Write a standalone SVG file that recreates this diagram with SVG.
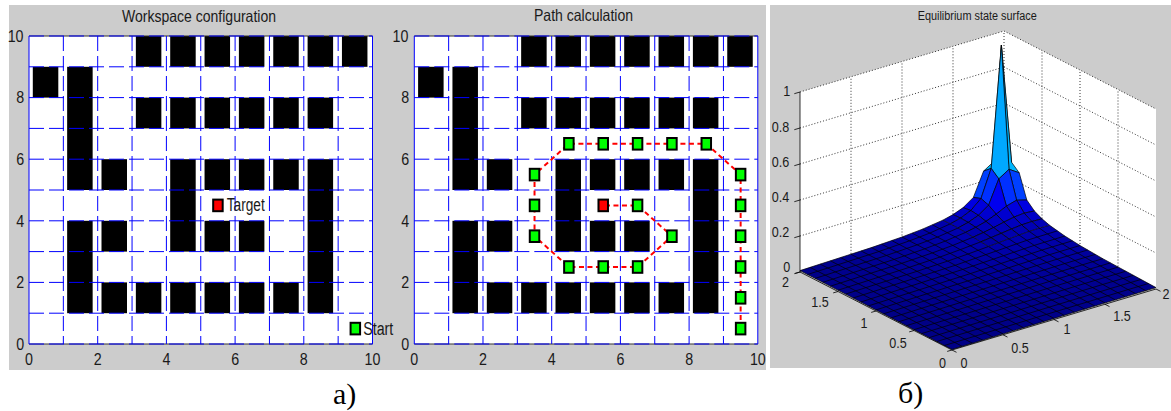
<svg xmlns="http://www.w3.org/2000/svg" width="1171" height="411" viewBox="0 0 1171 411">
<style>
.bg{fill:#CCCCCC}
.plot{fill:#FFFFFF}
.obs rect{fill:#000000}
.grid{fill:none;stroke:#0000FF;stroke-width:1;stroke-dasharray:15 5}
.box{fill:none;stroke:#0000FF;stroke-width:1}
.kline{fill:none;stroke:#333333;stroke-width:1}
.mk{stroke:#000000;stroke-width:2}
.g{fill:#00FF00}
.r{fill:#FF0000}
.route{fill:none;stroke:#FF0000;stroke-width:2;stroke-dasharray:5 3.5}
.t{font-family:"Liberation Sans",Arial,sans-serif;fill:#1a1a1a}
.tk{font-size:17px}
.tk3{font-size:15px}
.cx{transform-box:fill-box;transform-origin:center;transform:scaleX(0.84)}
.cap{font-family:"Liberation Serif","Times New Roman",serif;font-size:30px;fill:#000}
.wall{fill:#FFFFFF}
.dot{fill:none;stroke:#000000;stroke-width:0.8;stroke-dasharray:1 2}
.ax{fill:none;stroke:#000000;stroke-width:0.8}
.mesh{fill:none;stroke:#000000;stroke-width:0.7}
.f polygon{stroke:#000000;stroke-width:0.7;stroke-linejoin:round}
</style>
<defs>
<radialGradient id="surfGrad" gradientUnits="userSpaceOnUse" cx="1001" cy="222" r="250" gradientTransform="translate(1001 222) scale(1 0.42) translate(-1001 -222)">
<stop offset="0" stop-color="#0000B8"/>
<stop offset="0.25" stop-color="#0000AA"/>
<stop offset="0.5" stop-color="#00009A"/>
<stop offset="0.75" stop-color="#00008E"/>
<stop offset="1" stop-color="#000086"/>
</radialGradient>
<g id="map">
<rect class="plot" x="0" y="0" width="343.5" height="308"/>
<g class="obs">
<rect x="3.8" y="30.8" width="25.5" height="30.8"/>
<rect x="38.15" y="30.8" width="25.5" height="123.2"/>
<rect x="38.15" y="184.8" width="25.5" height="92.4"/>
<rect x="72.5" y="123.2" width="25.5" height="30.8"/>
<rect x="72.5" y="184.8" width="25.5" height="30.8"/>
<rect x="72.5" y="246.4" width="25.5" height="30.8"/>
<rect x="106.85" y="0" width="25.5" height="30.8"/>
<rect x="106.85" y="61.6" width="25.5" height="30.8"/>
<rect x="106.85" y="246.4" width="25.5" height="30.8"/>
<rect x="141.2" y="0" width="25.5" height="30.8"/>
<rect x="141.2" y="61.6" width="25.5" height="30.8"/>
<rect x="141.2" y="123.2" width="25.5" height="92.4"/>
<rect x="141.2" y="246.4" width="25.5" height="30.8"/>
<rect x="175.55" y="0" width="25.5" height="30.8"/>
<rect x="175.55" y="61.6" width="25.5" height="30.8"/>
<rect x="175.55" y="123.2" width="25.5" height="30.8"/>
<rect x="175.55" y="184.8" width="25.5" height="30.8"/>
<rect x="175.55" y="246.4" width="25.5" height="30.8"/>
<rect x="209.9" y="0" width="25.5" height="30.8"/>
<rect x="209.9" y="61.6" width="25.5" height="30.8"/>
<rect x="209.9" y="123.2" width="25.5" height="30.8"/>
<rect x="209.9" y="184.8" width="25.5" height="30.8"/>
<rect x="209.9" y="246.4" width="25.5" height="30.8"/>
<rect x="244.25" y="0" width="25.5" height="30.8"/>
<rect x="244.25" y="61.6" width="25.5" height="30.8"/>
<rect x="244.25" y="123.2" width="25.5" height="30.8"/>
<rect x="244.25" y="246.4" width="25.5" height="30.8"/>
<rect x="278.6" y="0" width="25.5" height="30.8"/>
<rect x="278.6" y="61.6" width="25.5" height="30.8"/>
<rect x="278.6" y="123.2" width="25.5" height="154"/>
<rect x="312.95" y="0" width="25.5" height="30.8"/>
</g>
<path class="kline" d="M0,0H343.5M0,308H343.5"/>
<path class="grid" d="M34.35,0V308M68.7,0V308M103.05,0V308M137.4,0V308M171.75,0V308M206.1,0V308M240.45,0V308M274.8,0V308M309.15,0V308M0,0H343.5M0,30.8H343.5M0,61.6H343.5M0,92.4H343.5M0,123.2H343.5M0,154H343.5M0,184.8H343.5M0,215.6H343.5M0,246.4H343.5M0,277.2H343.5M0,308H343.5"/>
<path class="box" d="M0,0V308M343.5,0V308"/>
</g>
</defs>

<rect class="bg" x="9" y="5" width="757" height="365"/>

<g id="panel-workspace">
<text class="t" x="122" y="21.5" font-size="16.5" textLength="154" lengthAdjust="spacingAndGlyphs">Workspace configuration</text>
<use href="#map" transform="translate(29,36)"/>
<g transform="translate(29,36)">
<rect class="mk r" x="184.18" y="163.6" width="9.5" height="11.6"/>
<text class="t" x="197.7" y="174.5" font-size="18" textLength="38" lengthAdjust="spacingAndGlyphs">Target</text>
<rect class="mk g" x="321.58" y="286.8" width="9.5" height="11.6"/>
<text class="t" x="334.3" y="299" font-size="18" textLength="30" lengthAdjust="spacingAndGlyphs">Start</text>
</g>
<g class="t tk" text-anchor="end">
<text class="cx" x="25" y="41.8">10</text>
<text class="cx" x="25" y="103.4">8</text>
<text class="cx" x="25" y="165">6</text>
<text class="cx" x="25" y="226.6">4</text>
<text class="cx" x="25" y="288.2">2</text>
<text class="cx" x="25" y="349.8">0</text>
</g>
<g class="t tk" text-anchor="middle">
<text class="cx" x="29" y="365.5">0</text>
<text class="cx" x="97.7" y="365.5">2</text>
<text class="cx" x="166.4" y="365.5">4</text>
<text class="cx" x="235.1" y="365.5">6</text>
<text class="cx" x="303.8" y="365.5">8</text>
<text class="cx" x="372.5" y="365.5">10</text>
</g>
</g>

<g id="panel-path">
<text class="t" x="534" y="21" font-size="16.5" textLength="99" lengthAdjust="spacingAndGlyphs">Path calculation</text>
<use href="#map" transform="translate(414.3,36)"/>
<g transform="translate(414.3,36)">
<path class="route" d="M326.33,292.6L326.33,138.6L291.98,107.8L154.58,107.8L120.23,138.6L120.23,200.2L154.58,231L223.28,231L257.63,200.2L223.28,169.4L188.93,169.4"/>
<g class="mk g">
<rect x="321.58" y="286.8" width="9.5" height="11.6"/>
<rect x="321.58" y="256" width="9.5" height="11.6"/>
<rect x="321.58" y="225.2" width="9.5" height="11.6"/>
<rect x="321.58" y="194.4" width="9.5" height="11.6"/>
<rect x="321.58" y="163.6" width="9.5" height="11.6"/>
<rect x="321.58" y="132.8" width="9.5" height="11.6"/>
<rect x="287.23" y="102" width="9.5" height="11.6"/>
<rect x="252.88" y="102" width="9.5" height="11.6"/>
<rect x="218.53" y="102" width="9.5" height="11.6"/>
<rect x="184.18" y="102" width="9.5" height="11.6"/>
<rect x="149.83" y="102" width="9.5" height="11.6"/>
<rect x="115.48" y="132.8" width="9.5" height="11.6"/>
<rect x="115.48" y="163.6" width="9.5" height="11.6"/>
<rect x="115.48" y="194.4" width="9.5" height="11.6"/>
<rect x="149.83" y="225.2" width="9.5" height="11.6"/>
<rect x="184.18" y="225.2" width="9.5" height="11.6"/>
<rect x="218.53" y="225.2" width="9.5" height="11.6"/>
<rect x="252.88" y="194.4" width="9.5" height="11.6"/>
<rect x="218.53" y="163.6" width="9.5" height="11.6"/>
</g>
<rect class="mk r" x="184.18" y="163.6" width="9.5" height="11.6"/>
</g>
<g class="t tk" text-anchor="end">
<text class="cx" x="410" y="41.8">10</text>
<text class="cx" x="410" y="103.4">8</text>
<text class="cx" x="410" y="165">6</text>
<text class="cx" x="410" y="226.6">4</text>
<text class="cx" x="410" y="288.2">2</text>
<text class="cx" x="410" y="349.8">0</text>
</g>
<g class="t tk" text-anchor="middle">
<text class="cx" x="414.3" y="365.5">0</text>
<text class="cx" x="483" y="365.5">2</text>
<text class="cx" x="551.7" y="365.5">4</text>
<text class="cx" x="620.4" y="365.5">6</text>
<text class="cx" x="689.1" y="365.5">8</text>
<text class="cx" x="757.8" y="365.5">10</text>
</g>
</g>

<g id="panel-surface">
<rect class="bg" x="770" y="5" width="401" height="363"/>
<text class="t" x="917.7" y="19.5" font-size="12.5" textLength="119" lengthAdjust="spacingAndGlyphs">Equilibrium state surface</text>
<polygon class="wall" points="800,272 1004,211 1004,31 800,92"/>
<polygon class="wall" points="1004,211 1156,289 1156,109 1004,31"/>
<path class="dot" d="M851,256.8L851,76.8M902,241.5L902,61.5M953,226.3L953,46.3M1004,211L1004,31M800,272L1004,211M800,236L1004,175M800,200L1004,139M800,164L1004,103M800,128L1004,67M800,92L1004,31M1118,269.5L1118,89.5M1080,250L1080,70M1042,230.5L1042,50.5M1004,211L1156,289M1004,175L1156,253M1004,139L1156,217M1004,103L1156,181M1004,67L1156,145M1004,31L1156,109"/>
<path class="ax" d="M800,272L800,92M800,272L794.3,273.7M800,236L794.3,237.7M800,200L794.3,201.7M800,164L794.3,165.7M800,128L794.3,129.7M800,92L794.3,93.7M952,350L800,272M952,350L947.2,351.4M914,330.5L909.2,331.9M876,311L871.2,312.4M838,291.5L833.2,292.9M800,272L795.2,273.4M952,350L1156,289M952,350L956.5,352.3M1003,334.8L1007.5,337.1M1054,319.5L1058.5,321.8M1105,304.3L1109.5,306.6M1156,289L1160.5,291.3"/>
<g class="t tk3" text-anchor="end">
<text class="cx" x="791" y="96">1</text>
<text class="cx" x="791" y="132">0.8</text>
<text class="cx" x="791" y="167">0.6</text>
<text class="cx" x="791" y="202.3">0.4</text>
<text class="cx" x="791" y="237.3">0.2</text>
<text class="cx" x="791" y="272">0</text>
</g>
<g class="t tk3" text-anchor="middle">
<text class="cx" x="942.5" y="368">0</text>
<text class="cx" x="898" y="348.5">0.5</text>
<text class="cx" x="864" y="328.5">1</text>
<text class="cx" x="820" y="307.5">1.5</text>
<text class="cx" x="785.5" y="287.5">2</text>
<text class="cx" x="964" y="368">0</text>
<text class="cx" x="1020" y="353.5">0.5</text>
<text class="cx" x="1067" y="334.5">1</text>
<text class="cx" x="1122" y="321.5">1.5</text>
<text class="cx" x="1166" y="299.5">2</text>
</g>
<polygon fill="url(#surfGrad)" points="952,349.4 1054,318.4 1094.8,306 1125.4,296.8 1156,287.6 1102.8,258.7 1080,245.5 1064.8,236 1049.6,225.3 1039.4,228.1 1029.2,231.4 1019,235 1008.8,238.8 998.6,242.7 988.4,246.5 980.8,241.8 973.2,237.1 965.6,232.4 958,228 950.4,223.8 942.8,220.2 922.4,229.2 902,237 871.4,247.6 800,270.6 822.8,282.3 845.6,294.1 876,309.9"/>
<path class="mesh" d="M952,349.4L876,309.9L845.6,294.1L822.8,282.3L800,270.6
M962.2,346.3L886.2,306.7L855.8,290.9L833,279.1L810.2,267.4
M972.4,343.2L896.4,303.5L866,287.7L843.2,275.9L820.4,264.2
M982.6,340.1L906.6,300.4L876.2,284.5L853.4,272.6L830.6,260.9
M992.8,337L916.8,297.2L886.4,281.2L863.6,269.4L840.8,257.7
M1003,333.9L927,293.9L896.6,278L873.8,266.1L851,254.3
M1013.2,330.8L937.2,290.7L906.8,274.7L884,262.7L861.2,251
M1023.4,327.7L947.4,287.5L917,271.3L894.2,259.4L871.4,247.6
M1033.6,324.6L957.6,284.2L927.2,268L904.4,255.9L881.6,244.2
M1043.8,321.5L967.8,281L937.4,264.6L914.6,252.4L891.8,240.6
M1054,318.4L978,277.7L947.6,261.1L924.8,248.8L902,237
M1064.2,315.3L988.2,274.4L957.8,257.6L935,245L912.2,233.2
M1074.4,312.2L998.4,271.1L968,254L945.2,241.1L922.4,229.2
M1084.6,309.1L1008.6,267.8L978.2,250.3L955.4,237L932.6,224.9
M1094.8,306L1041.6,277.3L1018.8,264.5L1003.6,255.7L988.4,246.5
M1105,302.9L1051.8,274.1L1029,261.2L1013.8,252.2L998.6,242.7
M1115.2,299.8L1062,271L1039.2,258L1024,248.8L1008.8,238.8
M1125.4,296.8L1072.2,267.9L1049.4,254.7L1034.2,245.4L1019,235
M1135.6,293.7L1082.4,264.8L1059.6,251.6L1044.4,242.1L1029.2,231.4
M1145.8,290.7L1092.6,261.7L1069.8,248.5L1054.6,239L1039.4,228.1
M1156,287.6L1102.8,258.7L1080,245.5L1064.8,236L1049.6,225.3
M952,349.4L1054,318.4L1094.8,306L1125.4,296.8L1156,287.6
M944.4,345.5L1046.4,314.4L1087.2,302L1117.8,292.7L1148.4,283.5
M936.8,341.5L1038.8,310.3L1079.6,297.9L1110.2,288.6L1140.8,279.5
M929.2,337.6L1031.2,306.3L1072,293.8L1102.6,284.5L1133.2,275.4
M921.6,333.6L1023.6,302.3L1064.4,289.7L1095,280.4L1125.6,271.3
M914,329.7L1016,298.2L1056.8,285.6L1087.4,276.3L1118,267.1
M906.4,325.7L1008.4,294.1L1049.2,281.5L1079.8,272.1L1110.4,262.9
M898.8,321.7L1000.8,290L1041.6,277.3L1072.2,267.9L1102.8,258.7
M891.2,317.8L993.2,285.9L1034,273.1L1064.6,263.6L1095.2,254.4
M883.6,313.8L985.6,281.8L1026.4,268.8L1057,259.2L1087.6,250
M876,309.9L978,277.7L1018.8,264.5L1049.4,254.7L1080,245.5
M868.4,305.9L970.4,273.6L1011.2,260.1L1041.8,250.1L1072.4,240.8
M860.8,302L962.8,269.4L1003.6,255.7L1034.2,245.4L1064.8,236
M853.2,298L955.2,265.3L996,251.1L1026.6,240.4L1057.2,230.9
M845.6,294.1L917,271.3L947.6,261.1L968,254L988.4,246.5
M838,290.2L909.4,267.3L940,257L960.4,249.6L980.8,241.8
M830.4,286.2L901.8,263.3L932.4,252.9L952.8,245.4L973.2,237.1
M822.8,282.3L894.2,259.4L924.8,248.8L945.2,241.1L965.6,232.4
M815.2,278.4L886.6,255.4L917.2,244.8L937.6,237L958,228
M807.6,274.5L879,251.5L909.6,240.8L930,233L950.4,223.8
M800,270.6L871.4,247.6L902,237L922.4,229.2L942.8,220.2"/>
<g class="f">
<polygon fill="#800000" points="1001.4,45.2 1011.6,162.3 1004,165 993.8,161.5"/>
<polygon fill="#00B7FF" points="991.2,168.4 1001.4,45.2 993.8,161.5 983.6,171.1"/>
<polygon fill="#00B7FF" points="1009,169.3 1019.2,172.8 1011.6,162.3 1001.4,45.2"/>
<polygon fill="#0040FF" points="981,198.5 991.2,168.4 983.6,171.1 973.4,197.4"/>
<polygon fill="#00A8FF" points="998.8,178.9 1009,169.3 1001.4,45.2 991.2,168.4"/>
<polygon fill="#0040FF" points="1016.6,200.2 1026.8,200 1019.2,172.8 1009,169.3"/>
<polygon fill="#0000E1" points="970.8,210.5 981,198.5 973.4,197.4 963.2,207.6"/>
<polygon fill="#0030FF" points="988.6,205.2 998.8,178.9 991.2,168.4 981,198.5"/>
<polygon fill="#0030FF" points="1006.4,206.1 1016.6,200.2 1009,169.3 998.8,178.9"/>
<polygon fill="#0000E1" points="1024.2,213.1 1034.4,211 1026.8,200 1016.6,200.2"/>
<polygon fill="#0000C7" points="960.6,218.1 970.8,210.5 963.2,207.6 953,214.6"/>
<polygon fill="#0000DC" points="978.4,215.4 988.6,205.2 981,198.5 970.8,210.5"/>
<polygon fill="#0000F0" points="996.2,214.2 1006.4,206.1 998.8,178.9 988.6,205.2"/>
<polygon fill="#0000DC" points="1014,217.1 1024.2,213.1 1016.6,200.2 1006.4,206.1"/>
<polygon fill="#0000C7" points="1031.8,221.5 1042,218.8 1034.4,211 1024.2,213.1"/>
<polygon fill="#0000B7" points="950.4,223.8 960.6,218.1 953,214.6 942.8,220.2"/>
<polygon fill="#0000C4" points="968.2,222.4 978.4,215.4 970.8,210.5 960.6,218.1"/>
<polygon fill="#0000CF" points="986,221.4 996.2,214.2 988.6,205.2 978.4,215.4"/>
<polygon fill="#0000CF" points="1003.8,222.2 1014,217.1 1006.4,206.1 996.2,214.2"/>
<polygon fill="#0000C4" points="1021.6,224.9 1031.8,221.5 1024.2,213.1 1014,217.1"/>
<polygon fill="#0000B7" points="1039.4,228.1 1049.6,225.3 1042,218.8 1031.8,221.5"/>
<polygon fill="#0000B5" points="958,228 968.2,222.4 960.6,218.1 950.4,223.8"/>
<polygon fill="#0000BE" points="975.8,227.3 986,221.4 978.4,215.4 968.2,222.4"/>
<polygon fill="#0000C2" points="993.6,227.5 1003.8,222.2 996.2,214.2 986,221.4"/>
<polygon fill="#0000BE" points="1011.4,229 1021.6,224.9 1014,217.1 1003.8,222.2"/>
<polygon fill="#0000B5" points="1029.2,231.4 1039.4,228.1 1031.8,221.5 1021.6,224.9"/>
<polygon fill="#0000B2" points="965.6,232.4 975.8,227.3 968.2,222.4 958,228"/>
<polygon fill="#0000B7" points="983.4,232.5 993.6,227.5 986,221.4 975.8,227.3"/>
<polygon fill="#0000B7" points="1001.2,233.3 1011.4,229 1003.8,222.2 993.6,227.5"/>
<polygon fill="#0000B2" points="1019,235 1029.2,231.4 1021.6,224.9 1011.4,229"/>
<polygon fill="#0000AE" points="973.2,237.1 983.4,232.5 975.8,227.3 965.6,232.4"/>
<polygon fill="#0000AF" points="991,237.6 1001.2,233.3 993.6,227.5 983.4,232.5"/>
<polygon fill="#0000AE" points="1008.8,238.8 1019,235 1011.4,229 1001.2,233.3"/>
<polygon fill="#0000A9" points="980.8,241.8 991,237.6 983.4,232.5 973.2,237.1"/>
<polygon fill="#0000A9" points="998.6,242.7 1008.8,238.8 1001.2,233.3 991,237.6"/>
<polygon fill="#0000A4" points="988.4,246.5 998.6,242.7 991,237.6 980.8,241.8"/>
</g>
</g>

<g id="captions">
<text class="cap" x="333" y="403.5">а)</text>
<text class="cap" x="898" y="403">б)</text>
</g>
</svg>
